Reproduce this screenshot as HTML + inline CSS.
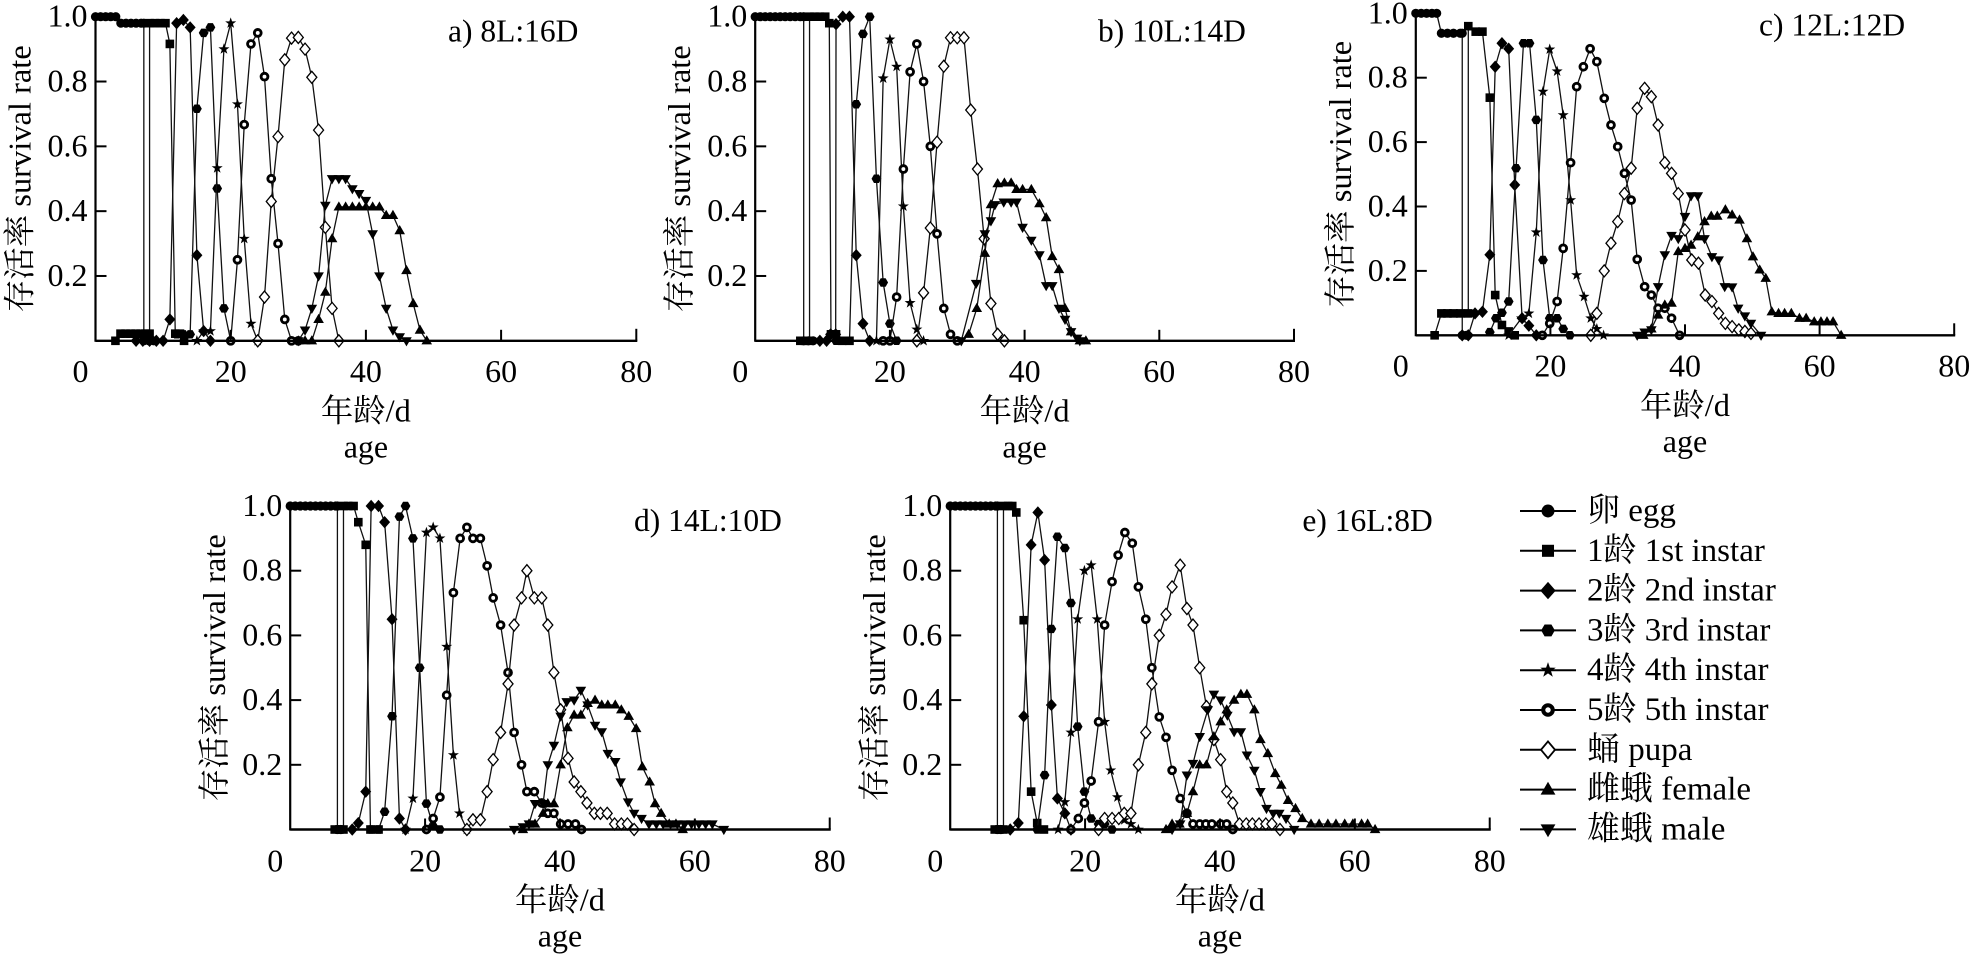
<!DOCTYPE html>
<html>
<head>
<meta charset="utf-8">
<style>
html,body{margin:0;padding:0;background:#fff;}
svg{display:block;}
text{font-family:"Liberation Serif","Noto Serif CJK SC","Noto Sans CJK SC",serif;fill:#000;}
.tk{font-size:32px;}
.tt{font-size:31.5px;}
.lg{font-size:33px;}
</style>
</head>
<body>
<svg id="chart" width="1971" height="958" viewBox="0 0 1971 958" xmlns="http://www.w3.org/2000/svg">
<rect x="0" y="0" width="1971" height="958" fill="#fff"/>
<g id="plots"></g>

<!-- Panel a -->
<g class="tk" text-anchor="end">
<text x="87.5" y="26.7">1.0</text><text x="87.5" y="91.5">0.8</text><text x="87.5" y="156.3">0.6</text><text x="87.5" y="221.2">0.4</text><text x="87.5" y="286">0.2</text>
</g>
<g class="tk" text-anchor="middle">
<text x="80.5" y="381.8">0</text><text x="230.7" y="381.8">20</text><text x="365.9" y="381.8">40</text><text x="501.1" y="381.8">60</text><text x="636.3" y="381.8">80</text>
<text x="365.9" y="421.3" textLength="90" lengthAdjust="spacingAndGlyphs">年龄/d</text>
<text x="365.9" y="457.3">age</text>
<text transform="translate(30.5,178.75) rotate(-90)" x="0" y="0" textLength="267" lengthAdjust="spacingAndGlyphs">存活率 survival rate</text>
</g>
<text class="tt" x="448" y="41.7">a) 8L:16D</text>

<!-- Panel b -->
<g class="tk" text-anchor="end">
<text x="747.2" y="26.7">1.0</text><text x="747.2" y="91.5">0.8</text><text x="747.2" y="156.3">0.6</text><text x="747.2" y="221.2">0.4</text><text x="747.2" y="286">0.2</text>
</g>
<g class="tk" text-anchor="middle">
<text x="740.2" y="381.8">0</text><text x="889.9" y="381.8">20</text><text x="1024.6" y="381.8">40</text><text x="1159.3" y="381.8">60</text><text x="1294" y="381.8">80</text>
<text x="1024.6" y="421.3" textLength="90" lengthAdjust="spacingAndGlyphs">年龄/d</text>
<text x="1024.6" y="457.3">age</text>
<text transform="translate(690.2,178.75) rotate(-90)" x="0" y="0" textLength="267" lengthAdjust="spacingAndGlyphs">存活率 survival rate</text>
</g>
<text class="tt" x="1098" y="41.7">b) 10L:14D</text>

<!-- Panel c -->
<g class="tk" text-anchor="end">
<text x="1407.8" y="23.3">1.0</text><text x="1407.8" y="87.7">0.8</text><text x="1407.8" y="152.1">0.6</text><text x="1407.8" y="216.5">0.4</text><text x="1407.8" y="280.9">0.2</text>
</g>
<g class="tk" text-anchor="middle">
<text x="1400.8" y="376.3">0</text><text x="1550.4" y="376.3">20</text><text x="1685" y="376.3">40</text><text x="1819.6" y="376.3">60</text><text x="1954.2" y="376.3">80</text>
<text x="1685" y="415.8" textLength="90" lengthAdjust="spacingAndGlyphs">年龄/d</text>
<text x="1685" y="451.8">age</text>
<text transform="translate(1350.8,174.3) rotate(-90)" x="0" y="0" textLength="267" lengthAdjust="spacingAndGlyphs">存活率 survival rate</text>
</g>
<text class="tt" x="1759" y="35.5">c) 12L:12D</text>

<!-- Panel d -->
<g class="tk" text-anchor="end">
<text x="282.2" y="516">1.0</text><text x="282.2" y="580.7">0.8</text><text x="282.2" y="645.4">0.6</text><text x="282.2" y="710.1">0.4</text><text x="282.2" y="774.8">0.2</text>
</g>
<g class="tk" text-anchor="middle">
<text x="275.2" y="871.5">0</text><text x="425.1" y="871.5">20</text><text x="560" y="871.5">40</text><text x="694.8" y="871.5">60</text><text x="829.7" y="871.5">80</text>
<text x="560" y="910.5" textLength="90" lengthAdjust="spacingAndGlyphs">年龄/d</text>
<text x="560" y="946.5">age</text>
<text transform="translate(225.2,667.75) rotate(-90)" x="0" y="0" textLength="267" lengthAdjust="spacingAndGlyphs">存活率 survival rate</text>
</g>
<text class="tt" x="634" y="531">d) 14L:10D</text>

<!-- Panel e -->
<g class="tk" text-anchor="end">
<text x="942.2" y="516">1.0</text><text x="942.2" y="580.7">0.8</text><text x="942.2" y="645.4">0.6</text><text x="942.2" y="710.1">0.4</text><text x="942.2" y="774.8">0.2</text>
</g>
<g class="tk" text-anchor="middle">
<text x="935.2" y="871.5">0</text><text x="1085.1" y="871.5">20</text><text x="1220" y="871.5">40</text><text x="1354.8" y="871.5">60</text><text x="1489.7" y="871.5">80</text>
<text x="1220" y="910.5" textLength="90" lengthAdjust="spacingAndGlyphs">年龄/d</text>
<text x="1220" y="946.5">age</text>
<text transform="translate(885.2,667.75) rotate(-90)" x="0" y="0" textLength="267" lengthAdjust="spacingAndGlyphs">存活率 survival rate</text>
</g>
<text class="tt" x="1302.4" y="531">e) 16L:8D</text>

<!-- Legend text -->
<g class="lg">
<text x="1587" y="521">卵 egg</text>
<text x="1587" y="560.8">1龄 1st instar</text>
<text x="1587" y="600.6">2龄 2nd instar</text>
<text x="1587" y="640.4">3龄 3rd instar</text>
<text x="1587" y="680.2">4龄 4th instar</text>
<text x="1587" y="720">5龄 5th instar</text>
<text x="1587" y="759.8">蛹 pupa</text>
<text x="1587" y="799.6">雌蛾 female</text>
<text x="1587" y="839.4">雄蛾 male</text>
</g>
</svg>

<script>
(function(){
var G={
a:{x0:95.5,xs:6.76,y0:340.8,y1:16.7},
b:{x0:755.2,xs:6.735,y0:340.8,y1:16.7},
c:{x0:1415.8,xs:6.73,y0:335.3,y1:13.3},
d:{x0:290.2,xs:6.744,y0:829.5,y1:506},
e:{x0:950.2,xs:6.744,y0:829.5,y1:506}
};
function eggStart(n,step,v){var r=[];for(var i=0;i<n;i++)r.push([i*step,v]);return r;}
var D={
a:{
egg:[[0,1],[0.75,1],[1.5,1],[2.25,1],[3,1],[3.75,.98],[4.5,.98],[5.25,.98],[6,.98],[6.75,.98],[7.15,.98],[7.15,0],[7.9,0],[8.6,0]],
st1:[[2.95,0],[3.7,.022],[4.45,.022],[5.2,.022],[5.95,.022],[6.7,.022],[7.4,.022],[8,.022],[8,.98],[8.8,.98],[9.6,.98],[10.35,.98],[11,.916],[11.8,.022],[12.5,.022],[13.1,0]],
nd2:[[6,0],[7,0],[8,0],[9,0],[10,0],[11,.066],[12,.98],[13,.99],[14,.967],[15,.264],[16,.03],[17,0]],
rd3:[[12,.02],[13,.02],[14,.02],[15,.716],[16,.95],[17,.967],[18,.47],[19,.1],[20,0]],
th4:[[15,0],[16,.03],[17,.03],[18,.533],[19,.9],[20,.98],[21,.73],[22,.315],[23,.053],[24,0]],
th5:[[20,0],[21,.25],[22,.667],[23,.916],[24,.95],[25,.815],[26,.5],[27,.3],[28,.066],[29,0],[30,0]],
pupa:[[24,0],[25,.135],[26,.43],[27,.63],[28,.867],[29,.934],[30,.936],[31,.9],[32,.813],[33,.65],[34,.35],[35,.1],[36,0]],
fem:[[30,0],[31,0],[32,0],[33,.066],[34,.15],[35,.315],[36,.413],[37,.413],[38,.413],[39,.413],[40,.413],[41,.413],[42,.413],[43,.387],[44,.387],[45,.34],[46,.217],[47,.115],[48,.033],[49,0]],
male:[[30,0],[31,.033],[32,.1],[33,.2],[34,.418],[35,.5],[36,.5],[37,.5],[38,.469],[39,.454],[40,.433],[41,.33],[42,.2],[43,.1],[44,.033],[45,.012],[46,0]]
},
b:{
egg:eggStart(10,0.743,1).concat([[7.2,1],[7.2,0],[7.9,0],[8.6,0]]),
st1:[[6.7,0],[7.4,0],[8.07,0],[8.07,1],[8.8,1],[9.6,1],[10.4,1],[11,.98],[11.25,.02],[12,.02],[12.9,0],[14,0]],
nd2:[[9.6,0],[10.6,0],[11.2,.02],[11.95,.02],[12,.977],[13,1],[14,1],[15,.264],[16,.053],[17,0]],
rd3:[[12,0],[13,0],[14,0],[15,.73],[16,.947],[17,1],[18,.5],[19,.18],[20,.053],[21,0]],
th4:[[18,0],[19,.81],[20,.93],[21,.846],[22,.415],[23,.117],[24,.035],[25,0]],
th5:[[19,0],[20,0],[21,.135],[22,.53],[23,.83],[24,.916],[25,.8],[26,.6],[27,.33],[28,.1],[29,.02],[30,0]],
pupa:[[24,0],[25,.148],[26,.348],[27,.613],[28,.847],[29,.935],[30,.935],[31,.935],[32,.712],[33,.53],[34,.315],[35,.115],[36,.02],[37,0]],
fem:[[31.7,.02],[32.9,.1],[34.1,.27],[35,.42],[36,.485],[37,.487],[38,.487],[38.8,.467],[39.7,.467],[41,.467],[42.2,.423],[43.2,.38],[44.1,.26],[45.1,.22],[46,.1],[46.9,.028],[48.2,0],[49.1,0]],
male:[[30.6,0],[32.8,.177],[34.1,.33],[35,.37],[35.6,.42],[36.9,.428],[38,.428],[38.8,.428],[39.7,.35],[41,.31],[42.2,.265],[43.2,.17],[44.1,.17],[45.1,.1],[46,.066],[46.9,.028],[47.8,.008],[48.2,0]]
},
c:{
egg:[[0,1],[0.8,1],[1.6,1],[2.4,1],[3.1,1],[3.8,.938],[4.7,.938],[5.6,.938],[6.6,.938],[6.9,.938],[6.9,0],[7.5,0]],
st1:[[2.8,0],[3.8,.068],[4.7,.068],[5.6,.068],[6.6,.068],[7.8,.068],[7.8,.96],[8.9,.943],[9.9,.943],[11,.738],[11.8,.125],[12.8,.032],[13.8,.012],[14.7,0]],
nd2:[[6.9,0],[7.8,0],[8.8,.068],[9.9,.073],[11,.25],[11.8,.834],[12.8,.907],[13.8,.89],[14.7,.467],[15.8,.053],[16.8,.03],[17.9,0]],
rd3:[[11,.01],[11.9,.053],[12.8,.07],[13.8,.105],[14.9,.519],[16,.907],[16.9,.907],[17.9,.669],[18.9,.234],[19.9,.053],[21,.053],[21.9,.02],[22.9,0]],
th4:[[13.8,0],[15.7,.053],[16.8,.068],[17.9,.32],[18.9,.757],[19.9,.888],[21,.82],[21.9,.684],[23,.42],[23.9,.187],[25,.12],[26,.053],[26.9,.02],[27.9,0]],
th5:[[18.8,0],[19.9,.037],[21,.105],[21.9,.27],[23,.536],[23.9,.772],[24.9,.834],[25.9,.89],[26.9,.85],[28,.736],[29,.653],[30,.586],[31,.503],[32,.42],[32.9,.236],[34,.151],[35,.125],[36,.084],[37,.084],[38,.053],[39.2,0]],
pupa:[[26,0],[26.9,.068],[28,.2],[29,.286],[30,.353],[31,.44],[32,.519],[32.9,.705],[34,.767],[35,.741],[36,.653],[37,.536],[38,.503],[39,.44],[40,.327],[41,.234],[42,.224],[43,.125],[44,.105],[45,.068],[46,.037],[47,.027],[48,.017],[48.9,.012],[49.8,.006]],
fem:[[33.8,0],[35,.02],[36,.063],[37,.094],[38,.1],[39,.26],[40,.27],[40.9,.28],[41.9,.306],[42.9,.353],[43.9,.37],[44.8,.37],[46,.39],[47,.374],[48.1,.358],[49.2,.3],[50.1,.244],[51.1,.203],[52,.177],[52.9,.073],[53.9,.068],[54.8,.068],[55.8,.068],[57,.053],[58,.053],[59.2,.042],[60.2,.042],[61.1,.042],[62,.042],[63.2,0]],
male:[[32.9,0],[34,.01],[35,.017],[36,.151],[37,.25],[38,.31],[39,.3],[40,.369],[40.9,.433],[41.9,.433],[42.9,.3],[44,.244],[45,.234],[45.9,.151],[47,.15],[47.9,.084],[48.9,.06],[49.8,.037],[51.3,0]]
},
d:{
egg:eggStart(10,0.75,1).concat([[7,1],[7,0],[7.5,0]]),
st1:[[6.6,0],[7.3,0],[7.9,0],[7.9,1],[8.6,1],[9.4,1],[10.1,.95],[11.2,.88],[11.9,0],[13.1,0]],
nd2:[[9.2,0],[10.1,.02],[11.2,.117],[12,1],[13.1,1],[14,.95],[15.1,.65],[16.2,.034],[17.1,0]],
rd3:[[12,0],[13.1,0],[14,.055],[15.1,.35],[16.2,.967],[17.1,1],[18.2,.9],[19.2,.5],[20.2,.08],[21.2,.01],[22.2,0]],
th4:[[17.1,0],[18.2,.096],[20.2,.918],[21.2,.934],[22.2,.9],[23.2,.565],[24.2,.23],[25.1,.05],[26.2,0]],
th5:[[20.2,0],[21.2,.034],[22.2,.1],[23.2,.415],[24.2,.732],[25.2,.9],[26.2,.934],[27.1,.9],[28.2,.9],[29.2,.815],[30.1,.716],[31.2,.632],[32.3,.485],[33.2,.3],[34.3,.2],[35.1,.117],[36.2,.117],[37.3,.082],[38.2,.05],[39.1,.05],[40.1,.017],[41.2,.017],[42.3,.017],[43.2,0]],
pupa:[[26.2,0],[27.1,.03],[28.2,.03],[29.2,.117],[30.1,.216],[31.2,.3],[32.3,.45],[33.2,.632],[34.3,.716],[35.1,.8],[36.2,.716],[37.3,.716],[38.2,.632],[39.1,.485],[40.1,.37],[41.2,.22],[42.1,.147],[43.1,.117],[44,.082],[45.1,.05],[46,.05],[47,.05],[48.1,.017],[49.1,.017],[50,.017],[51,0]],
fem:[[34.5,0],[35.4,.017],[36.3,.017],[37.5,.05],[38.2,.08],[39.1,.08],[40.1,.2],[41.1,.315],[42.1,.354],[43.1,.354],[44.1,.39],[45.2,.4],[46.2,.385],[47.1,.385],[48.2,.385],[49.1,.37],[50.2,.35],[51.3,.312],[52.2,.194],[53.3,.147],[54.1,.08],[55,.05],[56.2,.017],[57.2,.017],[58.2,0]],
male:[[33.2,0],[34.5,.008],[35.4,.017],[36.3,.08],[37.5,.08],[38.2,.2],[39.1,.26],[40.1,.35],[41,.395],[42.1,.4],[43.1,.43],[44.1,.385],[45.2,.322],[46.2,.302],[47.1,.235],[48.2,.21],[49,.147],[50.1,.085],[51,.05],[52.1,.034],[53.2,.017],[54.3,.017],[55.3,.017],[56.4,.017],[57.4,.017],[58.5,.017],[59.5,.017],[60.6,.017],[61.6,.017],[62.6,.017],[64.3,0]]
},
e:{
egg:eggStart(10,0.75,1).concat([[7,1],[7,0],[7.5,0]]),
st1:[[6.6,0],[7.3,0],[7.9,0],[7.9,1],[8.6,1],[9.2,1],[9.8,.98],[10.9,.647],[12,.117],[12.9,.02],[13.9,0]],
nd2:[[8.9,0],[10.1,.02],[10.9,.35],[12,.88],[13,.98],[14,.833],[15,.385],[15.9,.096],[17,.05],[17.9,0]],
rd3:[[12.9,0],[14,.168],[15,.62],[15.9,.905],[17,.87],[17.9,.7],[18.9,.318],[19.9,.117],[20.9,.034],[22,.017],[22.9,.017],[24,0]],
th4:[[16,0],[17,.085],[17.9,.3],[18.9,.65],[19.9,.8],[20.9,.817],[21.8,.65],[22.9,.333],[23.8,.183],[24.8,.1],[25.8,.029],[26.8,.017],[27.9,0]],
th5:[[17.9,0],[19,.034],[19.9,.082],[20.9,.15],[22,.333],[22.9,.632],[24,.766],[24.9,.848],[25.9,.918],[27,.885],[27.9,.75],[29,.65],[29.9,.5],[31,.348],[32,.285],[32.9,.183],[34.1,.096],[35.1,.05],[36,.017],[37,.017],[37.9,.017],[38.8,.017],[40.1,.017],[41,.017],[41.9,0]],
pupa:[[22,0],[22.9,.034],[24,.034],[25,.034],[25.8,.05],[26.8,.05],[27.9,.2],[29,.3],[29.9,.45],[31,.6],[32,.665],[32.9,.75],[34.1,.817],[35.1,.683],[36,.632],[37,.5],[38,.38],[39.1,.278],[40.1,.216],[41,.117],[41.9,.082],[42.9,.017],[43.9,.017],[44.8,.017],[45.8,.017],[46.8,.017],[47.7,.017],[48.9,0]],
fem:[[32,0],[32.9,.017],[34,.017],[35.1,.05],[36,.117],[37,.2],[38,.2],[39.1,.287],[40.1,.333],[41,.37],[42.1,.4],[43.1,.418],[44,.418],[45.1,.37],[46,.278],[47.1,.235],[48.2,.173],[49.1,.137],[50.1,.09],[51.2,.065],[52.2,.034],[53.5,.017],[54.7,.017],[56,.017],[57.2,.017],[58.5,.017],[59.7,.017],[61,.017],[61.9,.017],[63,0]],
male:[[32.9,0],[34.1,.017],[35.1,.168],[36,.204],[37,.287],[38.2,.37],[39.1,.418],[40.1,.4],[41.1,.353],[42.1,.302],[43.1,.302],[44,.23],[45.1,.183],[46,.117],[46.9,.065],[47.9,.05],[48.8,.05],[49.8,.034],[51,0]]
}
};
var ORDER=['egg','st1','nd2','rd3','th4','th5','pupa','fem','male'];
function f(n){return n.toFixed(2);}
function poly(pts,fill,stroke,sw){
  return '<polygon points="'+pts.map(function(p){return f(p[0])+','+f(p[1]);}).join(' ')+'" fill="'+fill+'"'+(stroke?' stroke="'+stroke+'" stroke-width="'+sw+'"':'')+'/>';
}
function mk(t,x,y,s){
  s=s||1;
  switch(t){
  case 'egg': return '<circle cx="'+f(x)+'" cy="'+f(y)+'" r="'+f(4.6*s)+'" fill="#000"/>';
  case 'st1': var h=4.3*s; return '<rect x="'+f(x-h)+'" y="'+f(y-h)+'" width="'+f(2*h)+'" height="'+f(2*h)+'" fill="#000"/>';
  case 'nd2': return poly([[x,y-6.2*s],[x+5.5*s,y],[x,y+6.2*s],[x-5.5*s,y]],'#000');
  case 'rd3': var p=[];for(var i=0;i<6;i++){var a=i*Math.PI/3;p.push([x+4.9*s*Math.cos(a),y+4.9*s*Math.sin(a)]);}return poly(p,'#000');
  case 'th4': var q=[];for(var j=0;j<10;j++){var r=(j%2?2.3:5.8)*s;var b=-Math.PI/2+j*Math.PI/5;q.push([x+r*Math.cos(b),y+r*Math.sin(b)]);}return poly(q,'#000');
  case 'th5': return '<circle cx="'+f(x)+'" cy="'+f(y)+'" r="'+f(3.4*s)+'" fill="#fff" stroke="#000" stroke-width="'+f(2.9*s)+'"/>';
  case 'pupa': return poly([[x,y-6*s],[x+5*s,y],[x,y+6*s],[x-5*s,y]],'#fff','#000',f(1.3*s));
  case 'fem': return poly([[x,y-5.6*s],[x+5.3*s,y+3.6*s],[x-5.3*s,y+3.6*s]],'#000');
  case 'male': return poly([[x,y+5.6*s],[x+5.3*s,y-3.6*s],[x-5.3*s,y-3.6*s]],'#000');
  }
  return '';
}
var out='';
for(var k in G){
  var g=G[k];
  var X=function(d){return g.x0+d*g.xs;};
  var Y=function(v){return g.y0-v*(g.y0-g.y1);};
  for(var si=0;si<ORDER.length;si++){
    var nm=ORDER[si];var arr=D[k][nm];
    var pts=arr.map(function(p){return f(X(p[0]))+','+f(Y(p[1]));}).join(' ');
    out+='<polyline points="'+pts+'" fill="none" stroke="#111" stroke-width="1.3" stroke-linejoin="round"/>';
    for(var pi=0;pi<arr.length;pi++){out+=mk(nm,X(arr[pi][0]),Y(arr[pi][1]),1);}
  }
  out+='<line x1="'+f(g.x0)+'" y1="'+f(g.y0)+'" x2="'+f(X(80)+1)+'" y2="'+f(g.y0)+'" stroke="#000" stroke-width="2.4"/>';
  out+='<line x1="'+f(g.x0)+'" y1="'+f(g.y1-1.5)+'" x2="'+f(g.x0)+'" y2="'+f(g.y0+1)+'" stroke="#000" stroke-width="2.2"/>';
  [20,40,60,80].forEach(function(t){out+='<line x1="'+f(X(t))+'" y1="'+f(g.y0)+'" x2="'+f(X(t))+'" y2="'+f(g.y0-(t==80?12:11))+'" stroke="#000" stroke-width="2"/>';});
  [.2,.4,.6,.8].forEach(function(v){out+='<line x1="'+f(g.x0)+'" y1="'+f(Y(v))+'" x2="'+f(g.x0+11)+'" y2="'+f(Y(v))+'" stroke="#000" stroke-width="2"/>';});
}
for(var li=0;li<ORDER.length;li++){
  var ly=511+li*39.8;
  out+='<line x1="1520" y1="'+f(ly)+'" x2="1576" y2="'+f(ly)+'" stroke="#000" stroke-width="2"/>';
  out+=mk(ORDER[li],1548,ly,1.4);
}
document.getElementById('plots').innerHTML=out;
})();
</script>
</body>
</html>
